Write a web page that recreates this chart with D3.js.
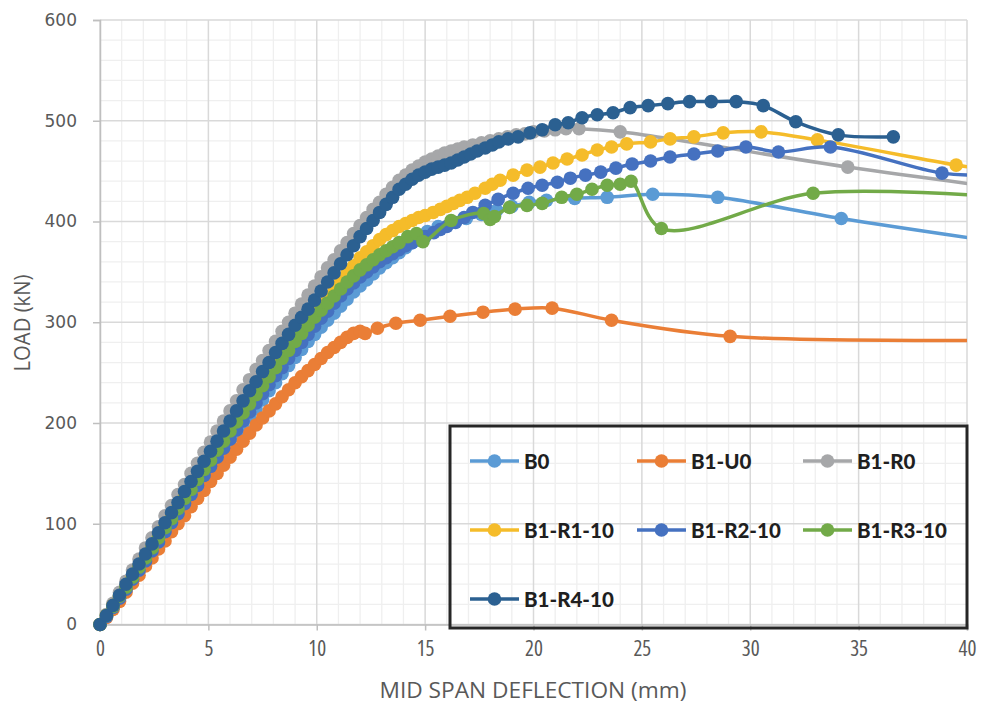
<!DOCTYPE html>
<html>
<head>
<meta charset="utf-8">
<script src="https://cdn.jsdelivr.net/npm/d3@7"></script>
<style>
    body { margin: 0; background: #ffffff; }
    svg { display: block; }
</style>
</head>
<body>
<div id="my_dataviz"></div>
<script>

// deflection (mm), load (kN)
var seriesNames = ["B0", "B1-U0", "B1-R0", "B1-R1-10", "B1-R2-10", "B1-R3-10", "B1-R4-10"];
var seriesColors = ["#5B9BD5", "#EA7E36", "#A6A7A9", "#F5BC2A", "#4571C0", "#72AA48", "#2B6091"];

var xTicks = [0, 5, 10, 15, 20, 25, 30, 35, 40];
var yTicks = [0, 100, 200, 300, 400, 500, 600];

var b0 = [[0,0],[0.3,8],[0.6,17],[0.9,26],[1.2,35],[1.5,44],[1.8,53],[2.1,62],[2.4,71],[2.7,80],[3.0,89],[3.3,98],[3.6,107],[3.9,116],[4.2,125],[4.5,134],[4.8,143],[5.1,152],[5.4,161],[5.7,170],[6.0,179],[6.3,188],[6.6,197],[6.9,206],[7.2,214],[7.5,223],[7.8,232],[8.1,240],[8.4,249],[8.7,257],[9.0,265],[9.3,273],[9.6,281],[9.9,288],[10.2,295],[10.5,302],[10.8,309],[11.1,316],[11.4,323],[11.7,330],[12.0,336],[12.3,342],[12.6,348],[12.9,354],[13.2,359],[13.5,364],[13.8,369],[14.1,374],[14.4,379],[14.7,384],[15.1,390],[15.6,395],[16.2,399],[16.9,403],[17.6,407],[18.3,411],[19.0,415],[19.8,419],[20.6,421],[21.9,423],[23.4,424],[25.5,427],[28.5,424],[34.2,403],[41,381]];

var b1u0 = [[0,0],[0.3,7],[0.6,15],[0.9,23],[1.2,32],[1.5,41],[1.8,49],[2.1,58],[2.4,66],[2.7,75],[3.0,83],[3.3,92],[3.6,100],[3.9,108],[4.2,117],[4.5,125],[4.8,133],[5.1,142],[5.4,150],[5.7,158],[6.0,166],[6.3,174],[6.6,182],[6.9,190],[7.2,198],[7.5,205],[7.8,212],[8.1,219],[8.4,226],[8.7,233],[9.0,240],[9.3,246],[9.6,252],[9.9,258],[10.2,264],[10.5,270],[10.8,275],[11.1,280],[11.4,285],[11.7,289],[12.0,291],[12.23,289],[12.8,294],[13.65,299],[14.77,302],[16.15,306],[17.67,310],[19.15,313],[20.86,314],[23.6,302],[29.07,286],[41,282]];

var b1r0 = [[0,0],[0.3,10],[0.6,21],[0.9,32],[1.2,43],[1.5,54],[1.8,65],[2.1,76],[2.4,86],[2.7,97],[3.0,108],[3.3,118],[3.6,129],[3.9,139],[4.2,150],[4.5,160],[4.8,171],[5.1,181],[5.4,192],[5.7,202],[6.0,212],[6.3,222],[6.6,233],[6.9,243],[7.2,253],[7.5,262],[7.8,272],[8.1,281],[8.4,291],[8.7,300],[9.0,309],[9.3,318],[9.6,327],[9.9,336],[10.2,345],[10.5,354],[10.8,362],[11.1,371],[11.4,379],[11.7,388],[12.0,396],[12.3,404],[12.6,412],[12.9,419],[13.2,427],[13.5,434],[13.8,441],[14.1,446],[14.4,451],[14.7,455],[15.0,459],[15.3,462],[15.6,465],[15.9,468],[16.2,470],[16.5,472],[16.8,474],[17.2,476],[17.6,478],[18.0,480],[18.4,482],[18.8,484],[19.2,486],[19.6,487],[20.0,489],[20.5,490],[21.0,491],[21.5,492],[22.1,492],[24.0,489],[34.5,454],[41,435]];

var b1r1 = [[0,0],[0.3,9],[0.6,19],[0.9,28],[1.2,38],[1.5,48],[1.8,58],[2.1,68],[2.4,77],[2.7,87],[3.0,97],[3.3,107],[3.6,116],[3.9,126],[4.2,136],[4.5,145],[4.8,155],[5.1,165],[5.4,174],[5.7,184],[6.0,193],[6.3,203],[6.6,212],[6.9,222],[7.2,231],[7.5,240],[7.8,249],[8.1,258],[8.4,267],[8.7,276],[9.0,284],[9.3,293],[9.6,301],[9.9,309],[10.2,317],[10.5,325],[10.8,333],[11.1,341],[11.4,349],[11.7,356],[12.0,364],[12.3,370],[12.6,376],[12.9,382],[13.2,387],[13.5,391],[13.8,395],[14.1,398],[14.4,401],[14.7,404],[15.0,406],[15.37,409],[15.7,412],[16.0,415],[16.3,418],[16.6,421],[16.94,424],[17.3,428],[17.77,433],[18.1,437],[18.46,441],[19.06,446],[19.7,451],[20.3,454],[20.9,458],[21.55,462],[22.24,466],[22.94,471],[23.6,474],[24.3,477],[25.4,479],[26.3,482],[27.4,484],[28.75,488],[30.5,489],[33.1,481],[39.5,456],[41,451]];

var b1r2 = [[0,0],[0.3,8],[0.6,17],[0.9,26],[1.2,35],[1.5,45],[1.8,54],[2.1,63],[2.4,73],[2.7,82],[3.0,92],[3.3,101],[3.6,110],[3.9,120],[4.2,129],[4.5,138],[4.8,148],[5.1,157],[5.4,166],[5.7,175],[6.0,184],[6.3,193],[6.6,202],[6.9,211],[7.2,220],[7.5,229],[7.8,238],[8.1,247],[8.4,255],[8.7,264],[9.0,272],[9.3,280],[9.6,288],[9.9,296],[10.2,304],[10.5,311],[10.8,319],[11.1,326],[11.4,333],[11.7,339],[12.0,345],[12.3,350],[12.6,355],[12.9,360],[13.2,364],[13.5,368],[13.8,372],[14.1,376],[14.4,379],[14.7,382],[15.0,385],[15.4,389],[15.7,392],[16.0,395],[16.4,399],[16.8,404],[17.2,409],[17.77,416],[18.37,422],[19.06,428],[19.75,433],[20.4,436],[21.1,439],[21.7,443],[22.4,446],[23.1,449],[23.8,453],[24.55,457],[25.4,460],[26.3,464],[27.4,467],[28.5,470],[29.8,474],[31.3,469],[33.7,474],[38.85,448],[41,446]];

var b1r3 = [[0,0],[0.3,9],[0.6,18],[0.9,28],[1.2,37],[1.5,47],[1.8,57],[2.1,66],[2.4,76],[2.7,86],[3.0,96],[3.3,105],[3.6,115],[3.9,125],[4.2,134],[4.5,144],[4.8,154],[5.1,163],[5.4,173],[5.7,182],[6.0,192],[6.3,201],[6.6,210],[6.9,219],[7.2,228],[7.5,237],[7.8,246],[8.1,255],[8.4,264],[8.7,272],[9.0,281],[9.3,289],[9.6,297],[9.9,305],[10.2,312],[10.5,319],[10.8,326],[11.1,333],[11.4,340],[11.7,346],[12.0,352],[12.3,357],[12.6,362],[12.9,367],[13.2,371],[13.5,375],[13.8,379],[14.2,385],[14.6,388],[14.9,380],[16.2,401],[17.7,408],[18.0,402],[18.2,405],[18.9,414],[19.7,416],[20.4,418],[21.3,424],[22.0,427],[22.7,432],[23.4,436],[24.0,437],[24.5,440],[25.9,393],[32.9,428],[41,425]];

var b1r4 = [[0,0],[0.3,9],[0.6,19],[0.9,29],[1.2,40],[1.5,50],[1.8,60],[2.1,70],[2.4,80],[2.7,91],[3.0,101],[3.3,111],[3.6,121],[3.9,132],[4.2,142],[4.5,152],[4.8,162],[5.1,172],[5.4,182],[5.7,192],[6.0,202],[6.3,212],[6.6,222],[6.9,232],[7.2,241],[7.5,251],[7.8,260],[8.1,270],[8.4,279],[8.7,288],[9.0,297],[9.3,305],[9.6,313],[9.9,322],[10.2,331],[10.5,340],[10.8,349],[11.1,358],[11.4,367],[11.7,376],[12.0,385],[12.3,393],[12.6,401],[12.9,409],[13.2,417],[13.5,424],[13.8,432],[14.1,437],[14.4,442],[14.7,446],[15.0,449],[15.3,452],[15.6,454],[15.9,456],[16.2,458],[16.5,461],[16.8,464],[17.1,467],[17.4,470],[17.77,473],[18.1,476],[18.4,479],[18.83,482],[19.29,484],[19.84,488],[20.4,491],[21.0,496],[21.6,498],[22.24,503],[22.94,506],[23.67,508],[24.46,513],[25.29,515],[26.2,517],[27.2,519],[28.2,519],[29.35,519],[30.6,515],[32.1,499],[34.06,486],[36.6,484]];

var allSeries = [b0, b1u0, b1r0, b1r1, b1r2, b1r3, b1r4];


function init() {
    var svg = d3.select("#my_dataviz")
        .append("svg")
        .attr("width", 981)
        .attr("height", 707);

    var xScale = d3.scaleLinear().domain([0, 40]).range([100, 967]);
    var yScale = d3.scaleLinear().domain([0, 600]).range([624.5, 20]);

    drawGrid(svg, xScale, yScale);
    drawAxes(svg, xScale, yScale);
    drawLines(svg, xScale, yScale);
    drawLegend(svg);
}


/*************************************** grid ***************************************/
function drawGrid(svg, xScale, yScale) {
    var g = svg.append("g");

    // minor lines every 1 mm and 20 kN
    g.selectAll(".minorX")
        .data(d3.range(1, 40).filter(function (d) { return d % 5 != 0; }))
        .enter().append("line")
        .attr("x1", function (d) { return xScale(d); })
        .attr("x2", function (d) { return xScale(d); })
        .attr("y1", yScale(0)).attr("y2", yScale(600))
        .style("stroke", "#efefef").style("stroke-width", 1.3);

    g.selectAll(".minorY")
        .data(d3.range(20, 600, 20).filter(function (d) { return d % 100 != 0; }))
        .enter().append("line")
        .attr("x1", xScale(0)).attr("x2", xScale(40))
        .attr("y1", function (d) { return yScale(d); })
        .attr("y2", function (d) { return yScale(d); })
        .style("stroke", "#efefef").style("stroke-width", 1.3);

    g.selectAll(".majorX")
        .data(xTicks)
        .enter().append("line")
        .attr("x1", function (d) { return xScale(d); })
        .attr("x2", function (d) { return xScale(d); })
        .attr("y1", yScale(0)).attr("y2", yScale(600))
        .style("stroke", "#d9d9d9").style("stroke-width", 1.5);

    g.selectAll(".majorY")
        .data(yTicks)
        .enter().append("line")
        .attr("x1", xScale(0)).attr("x2", xScale(40))
        .attr("y1", function (d) { return yScale(d); })
        .attr("y2", function (d) { return yScale(d); })
        .style("stroke", "#d9d9d9").style("stroke-width", 1.5);
}


/*************************************** axes ***************************************/
function drawAxes(svg, xScale, yScale) {
    var xAxis = svg.append("g")
        .attr("transform", "translate(0," + yScale(0) + ")")
        .call(d3.axisBottom(xScale).tickValues(xTicks).tickSize(6).tickPadding(11));
    xAxis.select(".domain").style("stroke", "#bfbfbf").style("stroke-width", 1.5);
    xAxis.selectAll(".tick line").style("stroke", "#bfbfbf").style("stroke-width", 1.5);
    xAxis.selectAll("text")
        .style("font-family", "'Liberation Sans Narrow', 'Open Sans', sans-serif")
        .style("font-stretch", "condensed")
        .style("font-size", "21px")
        .style("fill", "#595959");

    var yAxis = svg.append("g")
        .attr("transform", "translate(" + xScale(0) + ",0)")
        .call(d3.axisLeft(yScale).tickValues(yTicks).tickSize(7).tickPadding(16));
    yAxis.select(".domain").style("stroke", "#bfbfbf").style("stroke-width", 1.5);
    yAxis.selectAll(".tick line").style("stroke", "#bfbfbf").style("stroke-width", 1.5);
    yAxis.selectAll("text")
        .style("font-family", "'DejaVu Sans', sans-serif")
        .style("font-size", "17px")
        .style("fill", "#595959");

    // X label
    svg.append("text")
        .attr("x", 533)
        .attr("y", 698)
        .attr("text-anchor", "middle")
        .attr("textLength", 307)
        .attr("lengthAdjust", "spacingAndGlyphs")
        .style("font-family", "'Liberation Sans Narrow', 'Open Sans', sans-serif")
        .style("font-size", "22px")
        .style("fill", "#595959")
        .text("MID SPAN DEFLECTION (mm)");

    // Y label
    svg.append("text")
        .attr("text-anchor", "middle")
        .attr("transform", "translate(30,323)rotate(-90)")
        .attr("textLength", 97)
        .attr("lengthAdjust", "spacingAndGlyphs")
        .style("font-family", "'Liberation Sans Narrow', 'Open Sans', sans-serif")
        .style("font-size", "22px")
        .style("fill", "#595959")
        .text("LOAD (kN)");
}


/*************************************** series ***************************************/
function drawLines(svg, xScale, yScale) {
    svg.append("clipPath")
        .attr("id", "plotClip")
        .append("rect")
        .attr("x", xScale(0)).attr("y", yScale(600))
        .attr("width", xScale(40) - xScale(0))
        .attr("height", yScale(0) - yScale(600));

    var line = d3.line()
        .x(function (d) { return xScale(d[0]); })
        .y(function (d) { return yScale(d[1]); })
        .curve(d3.curveCatmullRom.alpha(0.5));

    for (var i = 0; i < allSeries.length; i++) {
        var g = svg.append("g");
        g.append("path")
            .datum(allSeries[i])
            .attr("d", line)
            .attr("clip-path", "url(#plotClip)")
            .style("fill", "none")
            .style("stroke", seriesColors[i])
            .style("stroke-width", 3.5);

        g.selectAll("circle")
            .data(allSeries[i].filter(function (d) { return d[0] <= 40; }))
            .enter()
            .append("circle")
            .attr("cx", function (d) { return xScale(d[0]); })
            .attr("cy", function (d) { return yScale(d[1]); })
            .attr("r", 6.8)
            .style("fill", seriesColors[i]);
    }
}


/*************************************** legend ***************************************/
function drawLegend(svg) {
    var legendX = [470, 637, 803];
    var legendY = [461, 530, 599];

    svg.append("rect")
        .attr("x", 450).attr("y", 426)
        .attr("width", 517).attr("height", 202)
        .style("fill", "none")
        .style("stroke", "#262626")
        .style("stroke-width", 3);

    for (var i = 0; i < seriesNames.length; i++) {
        var lx = legendX[i % 3];
        var ly = legendY[Math.floor(i / 3)];
        svg.append("line")
            .attr("x1", lx).attr("x2", lx + 49)
            .attr("y1", ly).attr("y2", ly)
            .style("stroke", seriesColors[i])
            .style("stroke-width", 3.5);
        svg.append("circle")
            .attr("cx", lx + 24.5).attr("cy", ly)
            .attr("r", 6.8)
            .style("fill", seriesColors[i]);
        svg.append("text")
            .attr("x", lx + 54)
            .attr("y", ly + 7.5)
            .style("font-family", "Lato, 'Open Sans', sans-serif")
            .style("font-weight", "900")
            .style("font-size", "20.5px")
            .style("fill", "#1f1f1f")
            .text(seriesNames[i]);
    }
}

init();
</script>
</body>
</html>
